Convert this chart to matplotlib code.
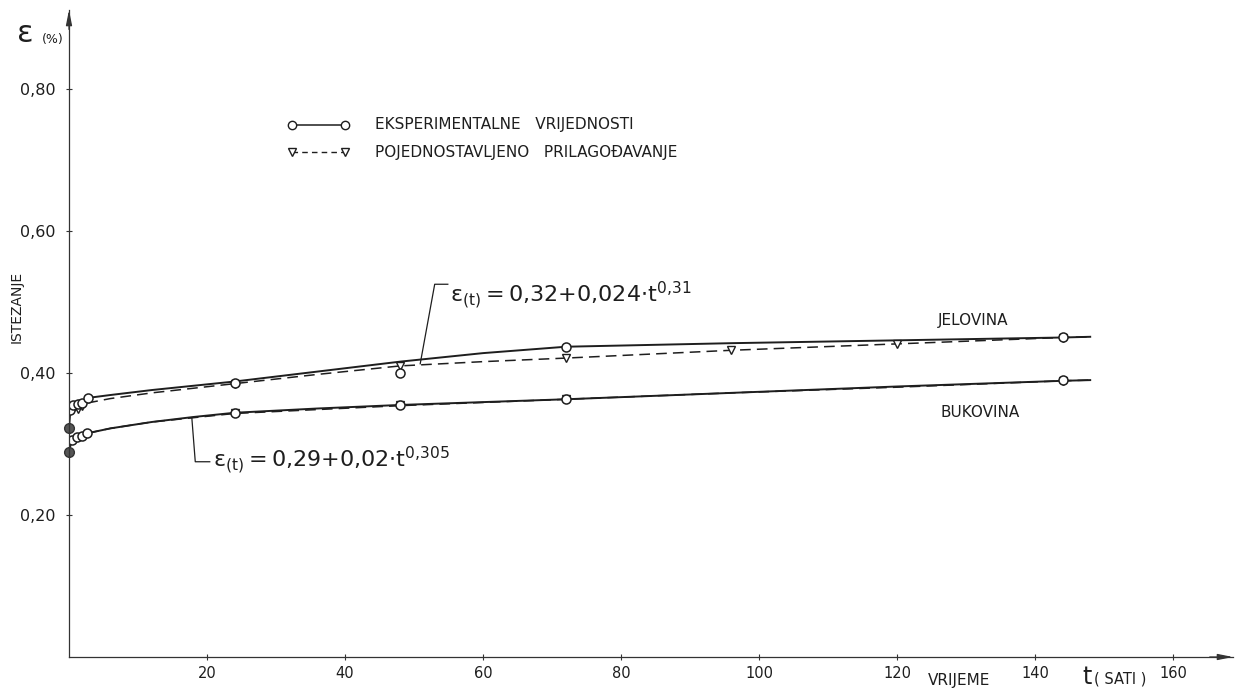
import matplotlib
matplotlib.use("Agg")
import matplotlib.pyplot as plt
from matplotlib import font_manager

# pick a narrow face for digits / formulas if present
names = {f.name for f in font_manager.fontManager.ttflist}
narrow = "Liberation Sans Narrow" if "Liberation Sans Narrow" in names else None

plt.rcParams["font.family"] = ["DejaVu Sans"]
if narrow:
    plt.rcParams["mathtext.fontset"] = "custom"
    plt.rcParams["mathtext.rm"] = narrow
    plt.rcParams["mathtext.it"] = narrow
    num_font = narrow
    formula_size = 21
else:
    plt.rcParams["mathtext.fontset"] = "dejavusans"
    num_font = "DejaVu Sans"
    formula_size = 16

# ---- data ----
# JELOVINA, experimental points
jel_t_exp = [0, 0.2, 0.6, 1.3, 1.9, 2.8, 24, 48, 72, 144]
jel_exp = [0.322, 0.348, 0.355, 0.356, 0.358, 0.365, 0.386, 0.400, 0.437, 0.451]
# drawn curve through experimental values
jel_curve_t = [0, 0.2, 0.6, 1.3, 1.9, 2.8, 6, 12, 24, 36, 48, 60, 72, 96, 120, 144, 148]
jel_curve = [0.322, 0.348, 0.355, 0.356, 0.358, 0.365, 0.369, 0.376, 0.388, 0.402,
             0.416, 0.428, 0.437, 0.442, 0.446, 0.450, 0.451]
# simplified fit (dashed)
jel_fit_t = [0.6, 1.3, 1.9, 2.8, 6, 12, 24, 36, 48, 60, 72, 96, 120, 144, 148]
jel_fit = [0.345, 0.350, 0.354, 0.358, 0.364, 0.372, 0.385, 0.398, 0.410, 0.416,
           0.421, 0.432, 0.441, 0.450, 0.451]
jel_tri_t = [1.3, 1.9, 24, 48, 72, 96, 120, 144]
jel_tri = [0.350, 0.354, 0.385, 0.410, 0.421, 0.432, 0.441, 0.450]

# BUKOVINA
buk_t_exp = [0, 0.4, 1.2, 1.9, 2.6, 24, 48, 72, 144]
buk_exp = [0.289, 0.306, 0.310, 0.311, 0.315, 0.344, 0.355, 0.363, 0.390]
buk_curve_t = [0, 0.4, 1.2, 1.9, 2.6, 6, 12, 18, 24, 36, 48, 72, 96, 120, 144, 148]
buk_curve = [0.289, 0.306, 0.310, 0.311, 0.315, 0.322, 0.331, 0.338, 0.344, 0.350,
             0.355, 0.363, 0.372, 0.381, 0.389, 0.390]
buk_fit_t = [0.6, 1.2, 1.9, 2.6, 6, 12, 24, 48, 72, 96, 120, 144, 148]
buk_fit = [0.305, 0.309, 0.312, 0.315, 0.322, 0.331, 0.343, 0.354, 0.363, 0.372,
           0.380, 0.389, 0.390]
buk_tri_t = [24, 48, 72, 144]
buk_tri = [0.343, 0.355, 0.364, 0.389]

xticks = [20, 40, 60, 80, 100, 120, 140, 160]
yticks = [0.20, 0.40, 0.60, 0.80]
ytick_labels = ["0,20", "0,40", "0,60", "0,80"]

ink = "#1e1e1e"
W, H = 1244, 690


def fx(px):
    return px / W


def fy(py):
    return 1 - py / H


fig = plt.figure(figsize=(W / 100, H / 100), dpi=100)
ax = fig.add_axes([fx(69), fy(657), (1233 - 69) / W, (657 - 10) / H])
ax.set_xlim(0, (1233 - 69) / 6.9)
ax.set_ylim(0, 647 / 710)

for s in ["top", "right"]:
    ax.spines[s].set_visible(False)
for s in ["left", "bottom"]:
    ax.spines[s].set_color("#333333")
    ax.spines[s].set_linewidth(0.9)

# axis arrowheads
arrow = dict(arrowstyle="-|>,head_length=0.9,head_width=0.18", color="#333333",
             lw=0.9, shrinkA=0, shrinkB=0)
ax.annotate("", xy=(0, 1.0), xytext=(0, 0.97), xycoords="axes fraction",
            arrowprops=arrow, annotation_clip=False)
ax.annotate("", xy=(1.0, 0), xytext=(0.98, 0), xycoords="axes fraction",
            arrowprops=arrow, annotation_clip=False)

ax.set_xticks(xticks)
ax.set_xticklabels([str(v) for v in xticks], fontfamily=num_font)
ax.set_yticks(yticks)
ax.set_yticklabels(ytick_labels, fontfamily=num_font)
ax.tick_params(axis="both", direction="inout", length=5, width=0.8, colors="#333333")
ax.tick_params(axis="x", labelsize=10.5, pad=4, labelcolor=ink)
ax.tick_params(axis="y", labelsize=11.5, pad=7, labelcolor=ink)

# curves
lw = 1.4
ax.plot(jel_curve_t, jel_curve, color=ink, lw=lw)
ax.plot(jel_fit_t, jel_fit, color=ink, lw=1.1, ls=(0, (7, 4)))
ax.plot(buk_curve_t, buk_curve, color=ink, lw=lw)
ax.plot(buk_fit_t, buk_fit, color=ink, lw=1.1, ls=(0, (7, 4)))

# markers
ax.plot(jel_tri_t, jel_tri, ls="none", marker="v", ms=5.5, mfc="white", mec=ink, mew=1.0)
ax.plot(buk_tri_t, buk_tri, ls="none", marker="v", ms=5.5, mfc="white", mec=ink, mew=1.0)
ax.plot(jel_t_exp[1:], jel_exp[1:], ls="none", marker="o", ms=6.5, mfc="white", mec=ink, mew=1.1)
ax.plot(buk_t_exp[1:], buk_exp[1:], ls="none", marker="o", ms=6.5, mfc="white", mec=ink, mew=1.1)
ax.plot([jel_t_exp[0], buk_t_exp[0]], [jel_exp[0], buk_exp[0]], ls="none", marker="o",
        ms=7, mfc="#555555", mec="#333333", mew=1.0, clip_on=False)

# formulas with leader lines
ax.plot([50.9, 53.0, 54.9], [0.413, 0.525, 0.525], color=ink, lw=0.9)
ax.text(55.2, 0.500, r"$\mathrm{\varepsilon_{(t)}{=}0{,}32{+}0{,}024{\cdot}t^{0{,}31}}$",
        fontsize=formula_size, ha="left", va="baseline", color=ink)
ax.plot([17.8, 18.3, 20.4], [0.337, 0.275, 0.275], color=ink, lw=0.9)
ax.text(20.9, 0.268, r"$\mathrm{\varepsilon_{(t)}{=}0{,}29{+}0{,}02{\cdot}t^{0{,}305}}$",
        fontsize=formula_size, ha="left", va="baseline", color=ink)

# series names
fig.text(fx(973), fy(320), "JELOVINA", fontsize=11, ha="center", va="center", color=ink)
fig.text(fx(980), fy(413), "BUKOVINA", fontsize=11, ha="center", va="center", color=ink)

# legend drawn by hand
fig.add_artist(plt.Line2D([fx(292), fx(345)], [fy(125), fy(125)], color=ink, lw=1.1,
                          marker="o", ms=6, mfc="white", mec=ink, mew=1.0))
fig.add_artist(plt.Line2D([fx(292), fx(345)], [fy(152), fy(152)], color=ink, lw=1.0,
                          ls=(0, (4, 3)), marker="v", ms=5.5, mfc="white", mec=ink, mew=1.0))
fig.text(fx(375), fy(125), "EKSPERIMENTALNE   VRIJEDNOSTI", fontsize=11, ha="left",
         va="center", color=ink)
fig.text(fx(375), fy(152), "POJEDNOSTAVLJENO   PRILAGOĐAVANJE", fontsize=11, ha="left",
         va="center", color=ink)

# axis captions
fig.text(fx(25), fy(33), "ε", fontsize=22, ha="center", va="center", color=ink)
fig.text(fx(53), fy(40), "(%)", fontsize=9, ha="center", va="center", color=ink)
fig.text(fx(17), fy(307), "ISTEZANJE", fontsize=10, rotation=90, ha="center",
         va="center", color=ink)
fig.text(fx(959), fy(680), "VRIJEME", fontsize=11, ha="center", va="center", color=ink)
fig.text(fx(1082), fy(677), "t", fontsize=17, ha="left", va="center", color=ink)
fig.text(fx(1094), fy(679), "( SATI )", fontsize=10.5, ha="left", va="center", color=ink)

fig.savefig("out.png", dpi=100, facecolor="white")
